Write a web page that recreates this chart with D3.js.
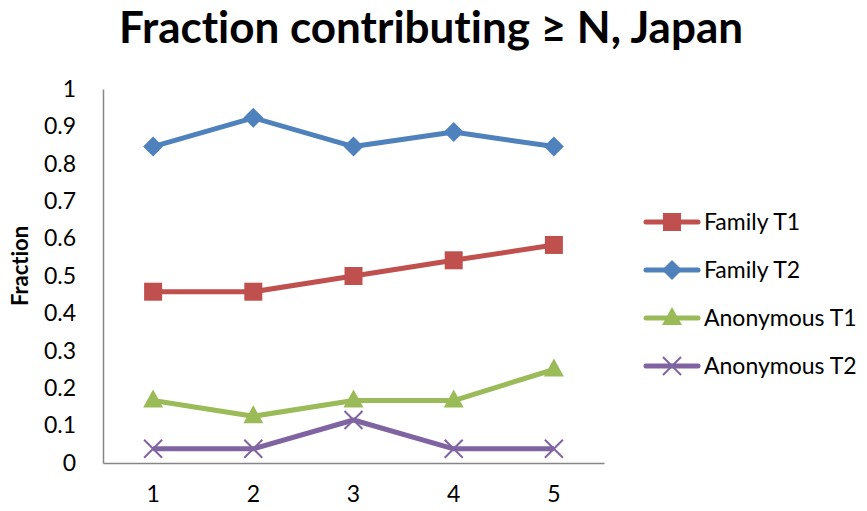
<!DOCTYPE html>
<html>
<head>
<meta charset="utf-8">
<script src="https://cdn.jsdelivr.net/npm/d3@7"></script>
<style>
  html, body { margin: 0; padding: 0; background: #fff; }
  svg { display: block; font-family: Lato, "Open Sans", sans-serif; font-variant-ligatures: none; }
</style>
</head>
<body>
<svg id="chart" width="867" height="511"></svg>
<script>
// Contribution levels on the x axis
const categories = ["1", "2", "3", "4", "5"];
// Fraction contributing at least N, by group
const familyT1 = [0.458, 0.458, 0.5, 0.542, 0.583];
const familyT2 = [0.846, 0.923, 0.846, 0.885, 0.846];
const anonymousT1 = [0.167, 0.125, 0.167, 0.167, 0.25];
const anonymousT2 = [0.038, 0.038, 0.115, 0.038, 0.038];
const seriesNames = ["Family T1", "Family T2", "Anonymous T1", "Anonymous T2"];
const yTicks = [0, 0.1, 0.2, 0.3, 0.4, 0.5, 0.6, 0.7, 0.8, 0.9, 1];

const series = [
  { name: seriesNames[0], values: familyT1, color: "#C0504D", marker: "square" },
  { name: seriesNames[1], values: familyT2, color: "#4F81BD", marker: "diamond" },
  { name: seriesNames[2], values: anonymousT1, color: "#9BBB59", marker: "triangle" },
  { name: seriesNames[3], values: anonymousT2, color: "#8064A2", marker: "cross" }
];

const svg = d3.select("#chart");
const plot = { left: 103, right: 604, top: 89, bottom: 463 };

const x = d3.scaleBand().domain(categories).range([plot.left, plot.right]);
const y = d3.scaleLinear().domain([0, 1]).range([plot.bottom, plot.top]);

// Title
svg.append("text")
  .attr("x", 431).attr("y", 43)
  .attr("text-anchor", "middle")
  .attr("font-weight", "bold")
  .attr("font-size", 44)
  .attr("fill", "#000")
  .text("Fraction contributing \u2265 N, Japan");

// Y axis
const yAxis = svg.append("g")
  .attr("transform", `translate(${plot.left},0)`)
  .call(d3.axisLeft(y).tickValues(yTicks).tickSize(0).tickPadding(27)
    .tickFormat(d => d3.format("~g")(d)));
yAxis.select(".domain").attr("stroke", "#868686").attr("stroke-width", 1.5);
yAxis.selectAll("text").attr("font-size", 23).attr("fill", "#000")
  .attr("font-family", "Lato, 'Open Sans', sans-serif");

// X axis
const xAxis = svg.append("g")
  .attr("transform", `translate(0,${plot.bottom})`)
  .call(d3.axisBottom(x).tickSize(0).tickPadding(23));
xAxis.select(".domain").attr("stroke", "#868686").attr("stroke-width", 1.5);
xAxis.selectAll("text").attr("font-size", 23).attr("fill", "#000")
  .attr("font-family", "Lato, 'Open Sans', sans-serif");

// Y axis title
svg.append("text")
  .attr("transform", "translate(28,266) rotate(-90)")
  .attr("text-anchor", "middle")
  .attr("font-weight", "bold")
  .attr("font-size", 22)
  .text("Fraction");

function drawMarker(g, type, color) {
  if (type === "square") {
    g.append("rect").attr("x", -9).attr("y", -9).attr("width", 18).attr("height", 18).attr("fill", color);
  } else if (type === "diamond") {
    g.append("path").attr("d", "M0,-10L10,0L0,10L-10,0Z").attr("fill", color);
  } else if (type === "triangle") {
    g.append("path").attr("d", "M0,-11L10,7L-10,7Z").attr("fill", color);
  } else if (type === "cross") {
    g.append("path").attr("d", "M-9,-9L9,9M-9,9L9,-9").attr("stroke", color).attr("stroke-width", 2).attr("fill", "none");
  }
}

const line = d3.line()
  .x((d, i) => x(categories[i]) + x.bandwidth() / 2)
  .y(d => y(d));

series.forEach(s => {
  svg.append("path")
    .datum(s.values)
    .attr("d", line)
    .attr("fill", "none")
    .attr("stroke", s.color)
    .attr("stroke-width", 5)
    .attr("stroke-linejoin", "round");
  s.values.forEach((v, i) => {
    const g = svg.append("g")
      .attr("transform", `translate(${x(categories[i]) + x.bandwidth() / 2},${y(v)})`);
    drawMarker(g, s.marker, s.color);
  });
});

// Legend
const legend = svg.append("g");
series.forEach((s, i) => {
  const yy = 222 + i * 48;
  const g = legend.append("g").attr("transform", `translate(0,${yy})`);
  g.append("line").attr("x1", 646).attr("x2", 698).attr("y1", 0).attr("y2", 0)
    .attr("stroke", s.color).attr("stroke-width", 5).attr("stroke-linecap", "round");
  const m = g.append("g").attr("transform", "translate(672,0)");
  drawMarker(m, s.marker, s.color);
  g.append("text").attr("x", 704).attr("y", 8)
    .attr("font-size", 23).attr("fill", "#000")
    .text(s.name);
});
</script>
</body>
</html>
